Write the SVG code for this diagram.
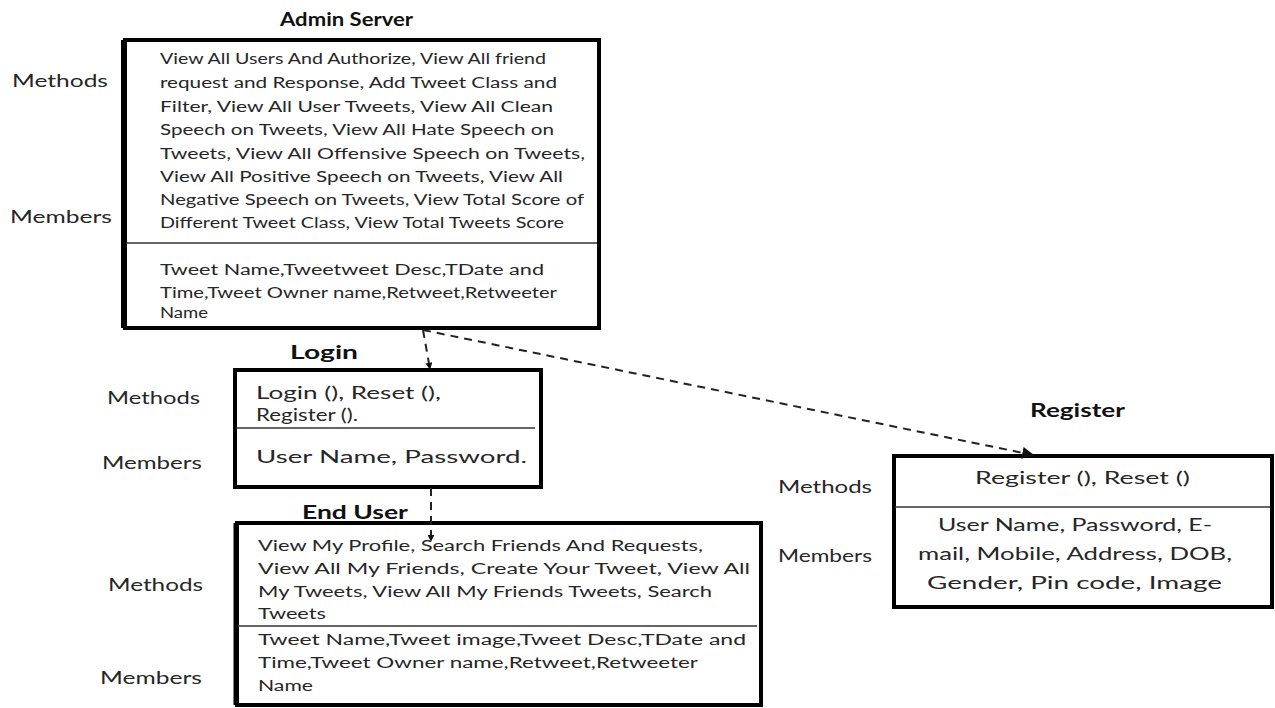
<svg xmlns="http://www.w3.org/2000/svg" width="1275" height="708" viewBox="0 0 1275 708">
<style>
text{font-family:"Lato","Liberation Sans",sans-serif;fill:#262626}
.t{font-weight:bold;font-size:19px;fill:#111}
.lb{font-size:17px}
.a{font-size:15.5px}
.l{font-size:17px}
.r{font-size:18px}
.box{fill:#fff;stroke:#000;stroke-width:4}
.div{stroke:#333;stroke-width:1.5}
.con{fill:none;stroke:#222;stroke-width:2;stroke-dasharray:8,6}
</style>
<defs>
<marker id="ah" viewBox="0 0 10 10" refX="9" refY="5" markerWidth="7" markerHeight="7" orient="auto" markerUnits="userSpaceOnUse">
<path d="M0,0 L10,5 L0,10 z" fill="#111"/>
</marker>
<marker id="ah2" viewBox="0 0 10 10" refX="9" refY="5" markerWidth="12" markerHeight="12" orient="auto" markerUnits="userSpaceOnUse">
<path d="M0,0 L10,5 L0,10 z" fill="#111"/>
</marker>
</defs>
<rect width="1275" height="708" fill="#fff"/>

<g id="admin">
<text class="t" x="280" y="26" textLength="133" lengthAdjust="spacingAndGlyphs">Admin Server</text>
<rect class="box" x="125" y="40" width="474" height="288"/>
<line x1="124" y1="40" x2="124" y2="328" stroke="#000" stroke-width="6"/>
<line class="div" x1="126" y1="243" x2="597" y2="243"/>
<text class="a" x="160" y="64" textLength="386" lengthAdjust="spacingAndGlyphs">View All Users And Authorize, View All friend</text>
<text class="a" x="160" y="88" textLength="397" lengthAdjust="spacingAndGlyphs">request and Response, Add Tweet Class and</text>
<text class="a" x="160" y="112" textLength="393" lengthAdjust="spacingAndGlyphs">Filter, View All User Tweets, View All Clean</text>
<text class="a" x="160" y="135" textLength="394" lengthAdjust="spacingAndGlyphs">Speech on Tweets, View All Hate Speech on</text>
<text class="a" x="160" y="159" textLength="425" lengthAdjust="spacingAndGlyphs">Tweets, View All Offensive Speech on Tweets,</text>
<text class="a" x="160" y="182" textLength="403" lengthAdjust="spacingAndGlyphs">View All Positive Speech on Tweets, View All</text>
<text class="a" x="160" y="205" textLength="424" lengthAdjust="spacingAndGlyphs">Negative Speech on Tweets, View Total Score of</text>
<text class="a" x="160" y="228" textLength="404" lengthAdjust="spacingAndGlyphs">Different Tweet Class, View Total Tweets Score</text>
<text class="a" x="160" y="275" textLength="384" lengthAdjust="spacingAndGlyphs">Tweet Name,Tweetweet Desc,TDate and</text>
<text class="a" x="160" y="298" textLength="397" lengthAdjust="spacingAndGlyphs">Time,Tweet Owner name,Retweet,Retweeter</text>
<text class="a" x="160" y="318" textLength="48" lengthAdjust="spacingAndGlyphs">Name</text>
<text class="lb" x="12" y="87" textLength="96" lengthAdjust="spacingAndGlyphs">Methods</text>
<text class="lb" x="10" y="223" textLength="102" lengthAdjust="spacingAndGlyphs">Members</text>
</g>

<g id="login">
<text class="t" x="290" y="359" textLength="68" lengthAdjust="spacingAndGlyphs">Login</text>
<rect class="box" x="235" y="370" width="306" height="117"/>
<line class="div" x1="236" y1="428" x2="535" y2="428"/>
<text class="l" x="256" y="399" textLength="185" lengthAdjust="spacingAndGlyphs">Login (), Reset (),</text>
<text class="l" x="256" y="421" textLength="102" lengthAdjust="spacingAndGlyphs">Register ().</text>
<text class="l" x="256" y="463" textLength="271" lengthAdjust="spacingAndGlyphs">User Name, Password.</text>
<text class="lb" x="107" y="404" textLength="93" lengthAdjust="spacingAndGlyphs">Methods</text>
<text class="lb" x="102" y="469" textLength="100" lengthAdjust="spacingAndGlyphs">Members</text>
</g>

<g id="enduser">
<text class="t" x="302" y="519" textLength="106" lengthAdjust="spacingAndGlyphs">End User</text>
<rect class="box" x="237" y="523" width="524" height="182"/>
<line x1="236" y1="523" x2="236" y2="705" stroke="#000" stroke-width="5"/>
<line class="div" x1="238" y1="626" x2="757" y2="626"/>
<text class="a" x="258" y="551" textLength="445" lengthAdjust="spacingAndGlyphs">View My Profile, Search Friends And Requests,</text>
<text class="a" x="258" y="574" textLength="492" lengthAdjust="spacingAndGlyphs">View All My Friends, Create Your Tweet, View All</text>
<text class="a" x="258" y="597" textLength="454" lengthAdjust="spacingAndGlyphs">My Tweets, View All My Friends Tweets, Search</text>
<text class="a" x="258" y="619" textLength="68" lengthAdjust="spacingAndGlyphs">Tweets</text>
<text class="a" x="258" y="645" textLength="488" lengthAdjust="spacingAndGlyphs">Tweet Name,Tweet image,Tweet Desc,TDate and</text>
<text class="a" x="258" y="668" textLength="440" lengthAdjust="spacingAndGlyphs">Time,Tweet Owner name,Retweet,Retweeter</text>
<text class="a" x="258" y="691" textLength="55" lengthAdjust="spacingAndGlyphs">Name</text>
<text class="lb" x="108" y="591" textLength="95" lengthAdjust="spacingAndGlyphs">Methods</text>
<text class="lb" x="100" y="684" textLength="102" lengthAdjust="spacingAndGlyphs">Members</text>
</g>

<g id="register">
<text class="t" x="1030" y="417" textLength="95" lengthAdjust="spacingAndGlyphs">Register</text>
<rect class="box" x="894" y="456" width="378" height="151"/>
<line class="div" x1="895" y1="507" x2="1270" y2="507"/>
<text class="r" x="975" y="484" textLength="215" lengthAdjust="spacingAndGlyphs">Register (), Reset ()</text>
<text class="r" x="938" y="531" textLength="274" lengthAdjust="spacingAndGlyphs">User Name, Password, E-</text>
<text class="r" x="918" y="560" textLength="314" lengthAdjust="spacingAndGlyphs">mail, Mobile, Address, DOB,</text>
<text class="r" x="927" y="589" textLength="295" lengthAdjust="spacingAndGlyphs">Gender, Pin code, Image</text>
<text class="lb" x="778" y="493" textLength="94" lengthAdjust="spacingAndGlyphs">Methods</text>
<text class="lb" x="778" y="562" textLength="94" lengthAdjust="spacingAndGlyphs">Members</text>
</g>

<g id="connectors">
<path class="con" d="M423,330 L430,369" marker-end="url(#ah)"/>
<path class="con" d="M423,330 L1033,455" marker-end="url(#ah2)"/>
<path class="con" d="M431,488 L431,541" marker-end="url(#ah)"/>
</g>
</svg>
